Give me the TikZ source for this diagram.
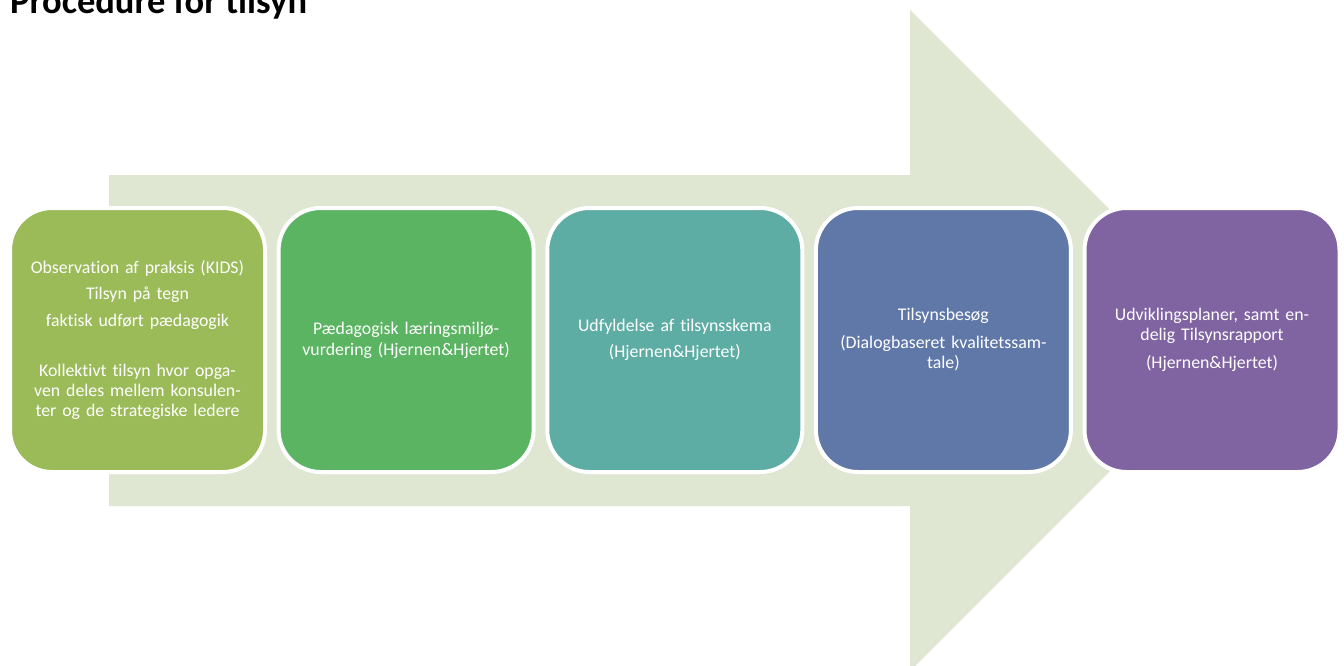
\documentclass[tikz,border=0pt]{standalone}
\usepackage{fontspec}
\setmainfont{Carlito}[Ligatures={NoCommon}]
\definecolor{arrowbg}{HTML}{DFE7D2}
\definecolor{cA}{HTML}{9BBB59}
\definecolor{cB}{HTML}{5BB462}
\definecolor{cC}{HTML}{5DADA5}
\definecolor{cD}{HTML}{5F78A8}
\definecolor{cE}{HTML}{8064A2}
\tikzset{
  stepbox/.style={draw=white, line width=4pt, rounded corners=42pt,
    minimum width=255pt, minimum height=264pt, inner sep=0pt,
    text=white, align=center, text width=244pt,
    font=\fontsize{17.8pt}{20pt}\selectfont},
}
\begin{document}
\begin{tikzpicture}[x=1pt,y=-1pt]
\useasboundingbox (0,0) rectangle (1344,665);
\clip (0,0) rectangle (1344,665);
\fill[white] (0,0) rectangle (1344,665);
% big arrow
\fill[arrowbg] (109,175) -- (910,175) -- (910,10) -- (1240.5,340.5)
  -- (910,671) -- (910,506) -- (109,506) -- cycle;
% title
\node[anchor=base west, inner sep=0pt, font=\fontsize{36.5pt}{40pt}\selectfont\bfseries]
  (title) at (10,13) {Procedure for tilsyn};
% boxes
\node[stepbox, fill=cA] (s1) at (137.5,340) {Observation af praksis (KIDS)\\[6pt]
Tilsyn på tegn\\[6.6pt]
faktisk udført pædagogik\\[30pt]
Kollektivt tilsyn hvor opga-\\
ven deles mellem konsulen-\\
ter og de strategiske ledere};
\node[stepbox, fill=cB] (s2) at (406.1,340) {Pædagogisk læringsmiljø-\\[1pt]
vurdering (Hjernen\&Hjertet)};
\node[stepbox, fill=cC] (s3) at (674.8,340) {Udfyldelse af tilsynsskema\\[6pt]
(Hjernen\&Hjertet)};
\node[stepbox, fill=cD] (s4) at (943.4,340) {Tilsynsbesøg\\[8pt]
(Dialogbaseret kvalitetssam-\\
tale)};
\node[stepbox, fill=cE] (s5) at (1212,340) {Udviklingsplaner, samt en-\\
delig Tilsynsrapport\\[8pt]
(Hjernen\&Hjertet)};
\end{tikzpicture}
\end{document}
